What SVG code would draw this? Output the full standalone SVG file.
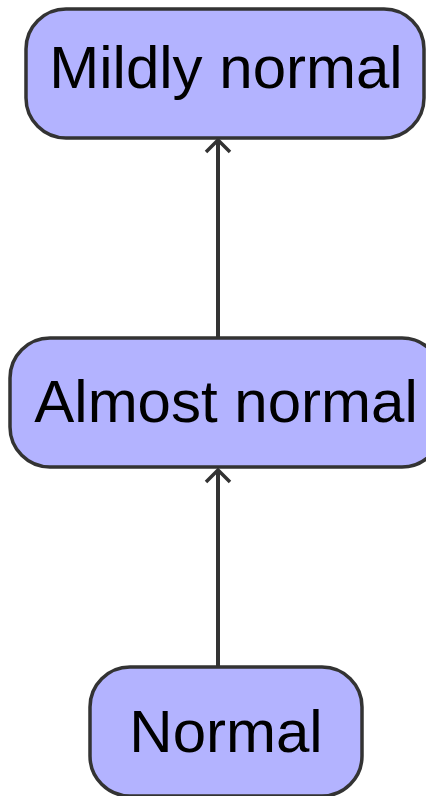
<svg xmlns="http://www.w3.org/2000/svg" width="426" height="796" viewBox="0 0 426 796">
<defs>
<style>
.box{fill:#b3b3ff;stroke:#333333;stroke-width:3.5}
.lbl{font-family:"Liberation Sans",Arial,sans-serif;font-size:60px;fill:#000;text-anchor:middle}
.edge{stroke:#333333;stroke-width:4;fill:none}
</style>
<marker id="arr" viewBox="0 0 16 28" refX="14" refY="14" markerWidth="16" markerHeight="28" markerUnits="userSpaceOnUse" orient="auto">
<path d="M2,2 L14,14 L2,26" fill="none" stroke="#333333" stroke-width="3.5"/>
</marker>
</defs>
<g id="edges">
<path class="edge" d="M218,337 L218,140" marker-end="url(#arr)"/>
<path class="edge" d="M218,666 L218,470" marker-end="url(#arr)"/>
</g>
<g id="node-mildly">
<rect class="box" x="26" y="9" width="398" height="129" rx="40" ry="40"/>
<text class="lbl" x="226" y="88">Mildly normal</text>
</g>
<g id="node-almost">
<rect class="box" x="10" y="338" width="432" height="129" rx="40" ry="40"/>
<text class="lbl" x="226" y="422">Almost normal</text>
</g>
<g id="node-normal">
<rect class="box" x="90" y="667" width="272" height="129" rx="40" ry="40"/>
<text class="lbl" x="226" y="752">Normal</text>
</g>
</svg>
